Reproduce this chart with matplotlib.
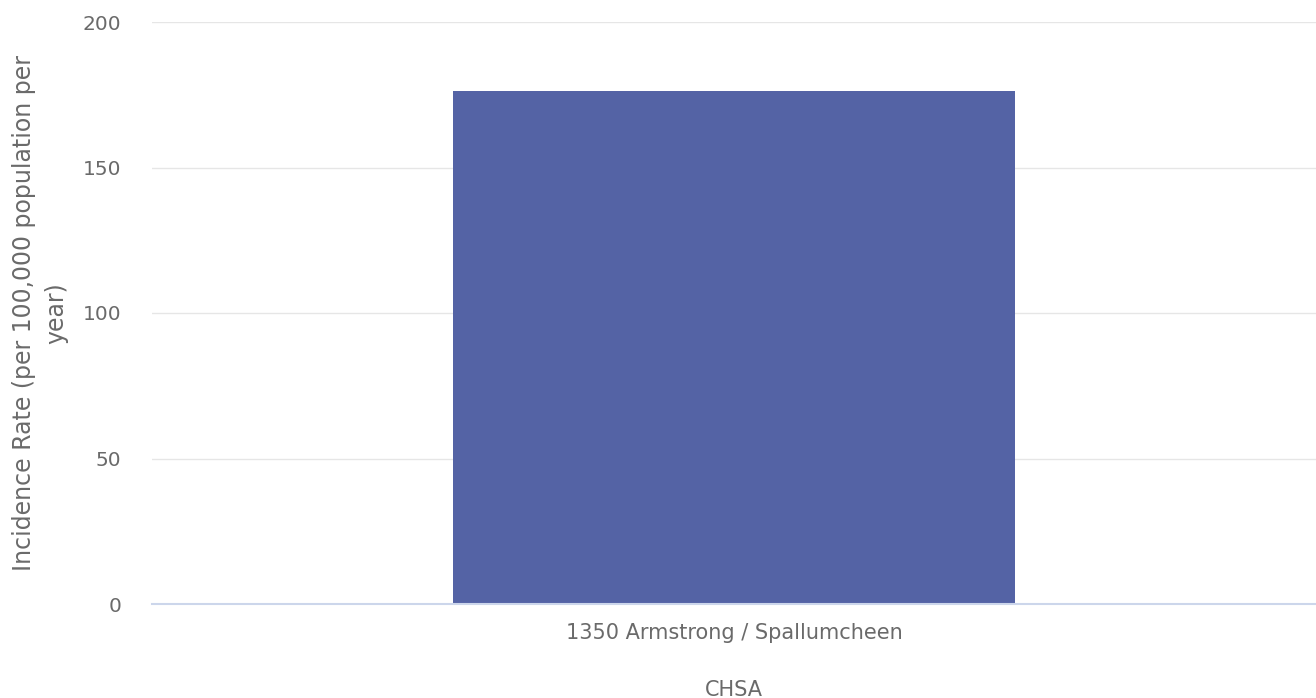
import matplotlib
matplotlib.use("Agg")
import matplotlib.pyplot as plt

plt.rcParams["font.family"] = ["DejaVu Sans"]

categories = ["1350 Armstrong / Spallumcheen"]
values = [176.3]
yticks = [0, 50, 100, 150, 200]

TXT = "#6a6a6a"
fig = plt.figure(figsize=(13.16, 6.98), dpi=100)
W, H = 1316, 698
ax = fig.add_axes([152 / W, (H - 604) / H, (1316 - 152) / W, (604 - 22) / H])

ax.bar(range(len(categories)), values, width=0.482, color="#5463a5", zorder=3)
ax.set_xlim(-0.5, len(categories) - 0.5)
ax.set_ylim(0, 200)
ax.set_yticks(yticks)
ax.set_yticklabels([str(v) for v in yticks], fontsize=14.5, color=TXT)
ax.set_xticks(range(len(categories)))
ax.set_xticklabels(categories, fontsize=15, color=TXT)
ax.tick_params(axis="both", length=0)
ax.tick_params(axis="y", pad=22)
ax.tick_params(axis="x", pad=14)
ax.grid(axis="y", color="#e6e6e6", linewidth=1, zorder=0)
for s in ["top", "right", "left"]:
    ax.spines[s].set_visible(False)
ax.spines["bottom"].set_color("#ccd6eb")
ax.spines["bottom"].set_linewidth(1.5)
ax.spines["bottom"].set_zorder(4)

ax.set_xlabel("CHSA", fontsize=15, color=TXT, labelpad=26)
fig.text(40 / W, 0.5 * ((H - 604) + (H - 22)) / H,
         "Incidence Rate (per 100,000 population per\nyear)",
         rotation=90, ha="center", va="center", fontsize=17, color=TXT,
         multialignment="center", linespacing=1.45)

fig.savefig("out.png", dpi=100)
